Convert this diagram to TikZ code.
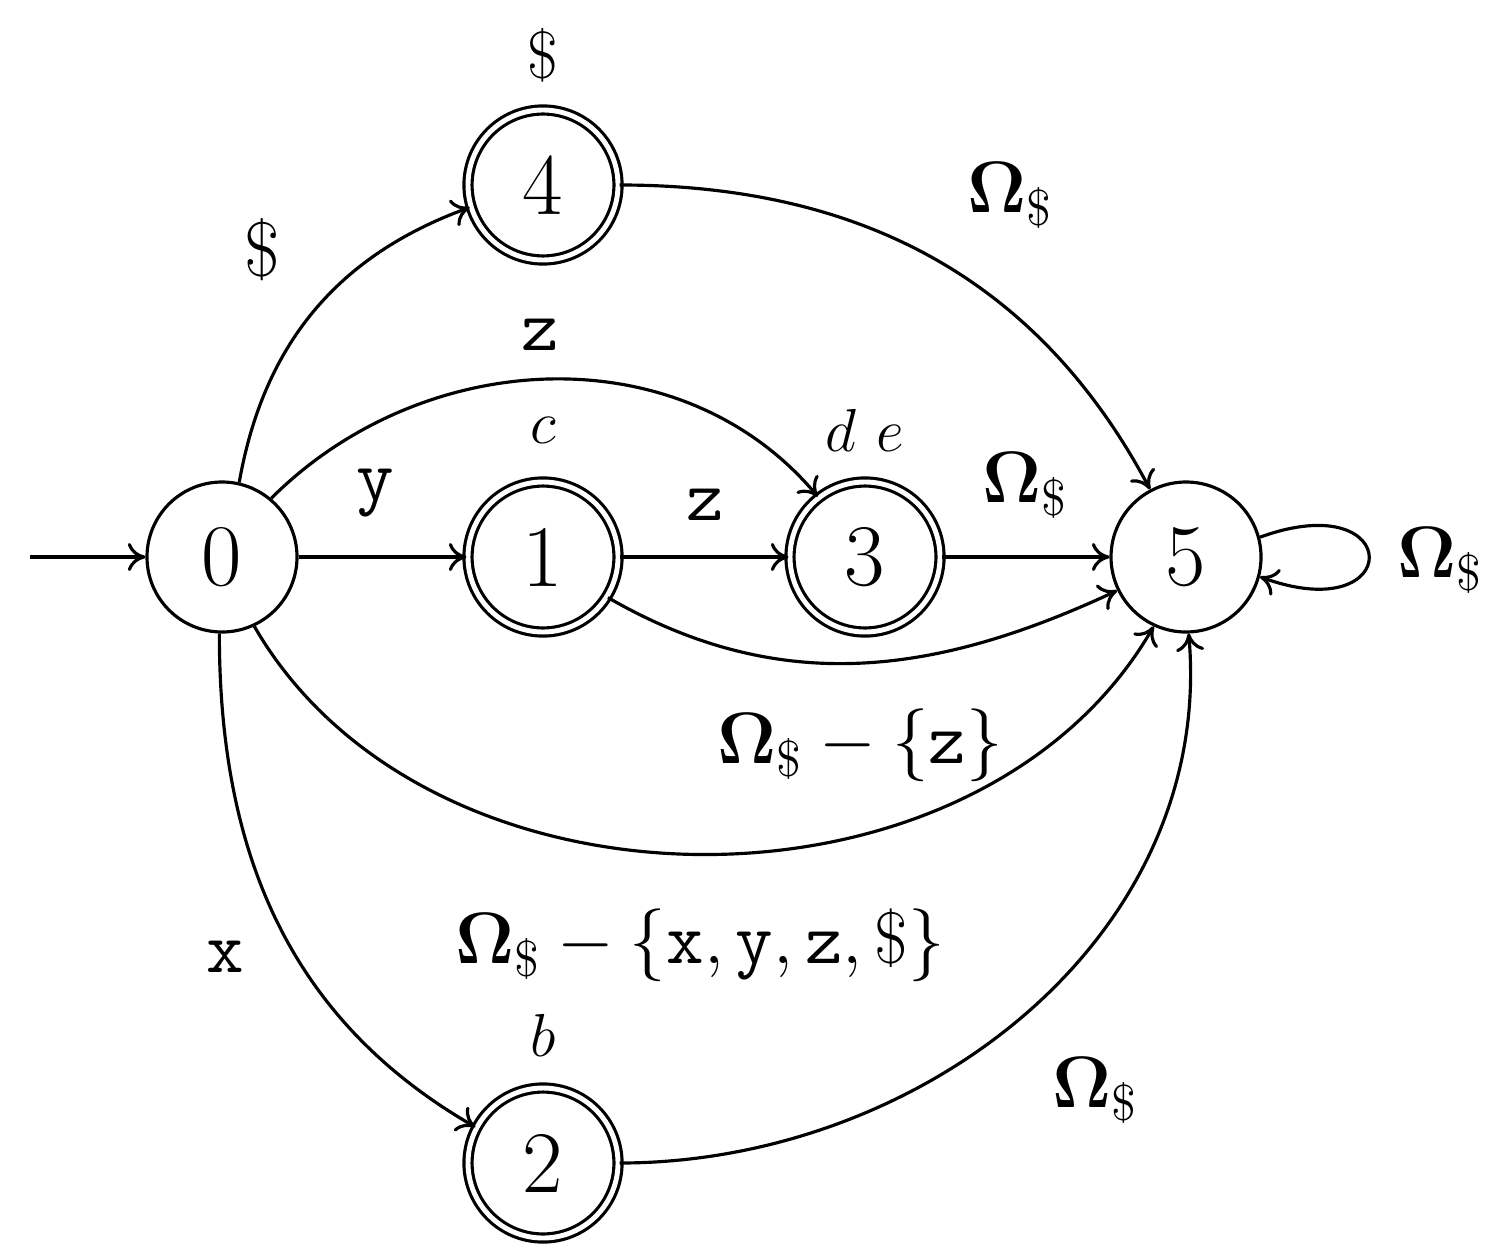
\documentclass[tikz,border=0pt]{standalone}
\usetikzlibrary{arrows.meta}
\begin{document}
\begin{tikzpicture}[x=1cm,y=1cm,
  st/.style={circle,draw,line width=0.9pt,minimum size=1.5cm,inner sep=0pt,font=\fontsize{25}{30}\selectfont},
  acc/.style={st,double,double distance=1.4pt},
  edge/.style={line width=0.9pt,-{To[length=5pt,width=8pt]}},
  lab/.style={font=\fontsize{22}{26}\selectfont},
  sm/.style={font=\fontsize{19}{22}\selectfont}]
\useasboundingbox (0,0) rectangle (15.11,12.55);
\node[st] (n0) at (2.22,6.98) {0};
\node[acc] (n1) at (5.43,6.98) {1};
\node[acc] (n3) at (8.65,6.98) {3};
\node[st] (n5) at (11.86,6.98) {5};
\node[acc] (n4) at (5.43,10.70) {4};
\node[acc] (n2) at (5.43,0.92) {2};
\coordinate (s) at (0.30,6.98);
\draw[edge] (s) -- (n0);
\draw[edge] (n0) -- (n1);
\draw[edge] (n1) -- (n3);
\draw[edge] (n3) -- (n5);
\draw[edge] (n0.77) to[out=80,in=200] (n4.197);
\draw[edge] (n0.50) to[out=45,in=130] (n3.128);
\draw[edge] (n4.0) to[out=0,in=118] (n5.118);
\draw[edge] (n1.-32) to[out=-30,in=-155] (n5.-154);
\draw[edge] (n0.-65) to[out=-60,in=-120] (n5.-115);
\draw[edge] (n0.-92) to[out=-90,in=150] (n2.152);
\draw[edge] (n2.0) to[out=0,in=-85] (n5.-88);
\draw[edge] (n5.15) to[out=20,in=-20,looseness=10] (n5.-15);
\node[lab] (ly) at (3.75,7.62) {$\mathtt{y}$};
\node[lab] (lz1) at (7.05,7.50) {$\mathtt{z}$};
\node[lab] (lo3) at (10.25,7.70) {$\mathbf{\Omega}_{\$}$};
\node[lab] (ld) at (2.62,10.05) {\$};
\node[lab] (lz2) at (5.40,9.20) {$\mathtt{z}$};
\node[lab] (lo4) at (10.10,10.60) {$\mathbf{\Omega}_{\$}$};
\node[lab] (lo1) at (8.60,5.10) {$\mathbf{\Omega}_{\$}-\{\mathtt{z}\}$};
\node[lab] (lo0) at (7.00,3.10) {$\mathbf{\Omega}_{\$}-\{\mathtt{x},\mathtt{y},\mathtt{z},\$\}$};
\node[lab] (lx) at (2.25,2.98) {$\mathtt{x}$};
\node[lab] (lo2) at (10.95,1.65) {$\mathbf{\Omega}_{\$}$};
\node[lab] (lo5) at (14.40,6.95) {$\mathbf{\Omega}_{\$}$};
\node[sm] (t4) at (5.43,12.00) {\$};
\node[sm] (t1) at (5.43,8.25) {$c$};
\node[sm] (t3) at (8.65,8.25) {$d\ e$};
\node[sm] (t2) at (5.43,2.20) {$b$};
\end{tikzpicture}
\end{document}
